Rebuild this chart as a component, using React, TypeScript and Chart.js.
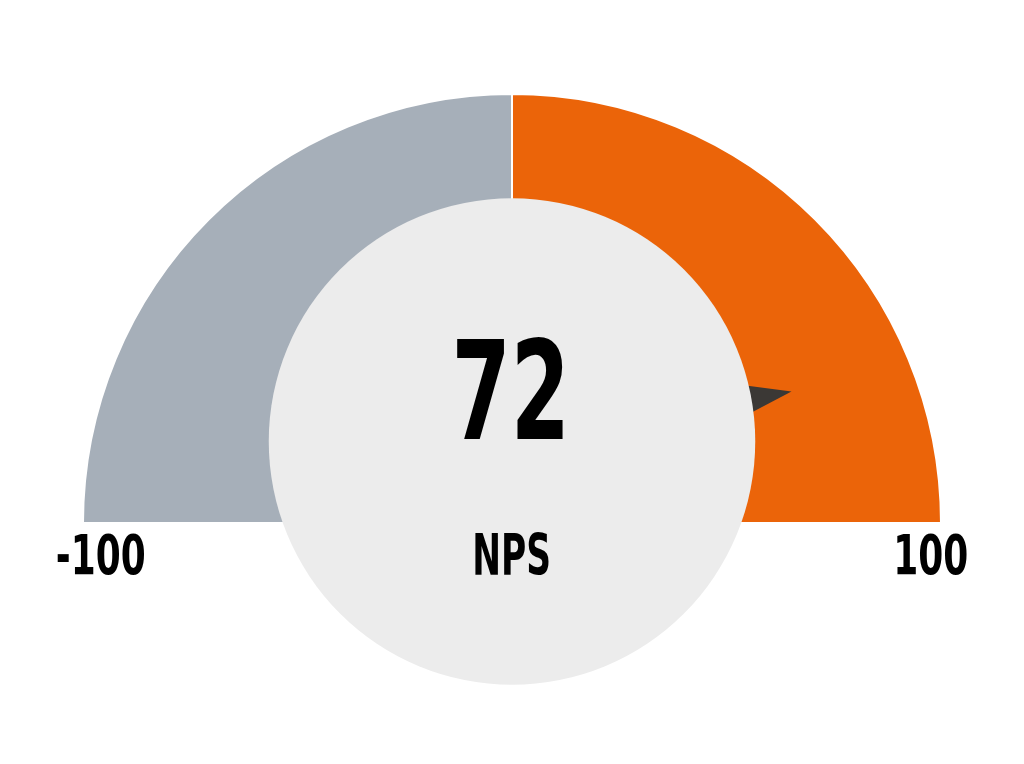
import { Chart, registerables } from 'chart.js';
import { useEffect, useRef } from 'react';

Chart.register(...registerables);

// gauge data
const gaugeMin = -100;
const gaugeMax = 100;
const bandLabels = ['-100 to 0', '0 to 100'];
const bandValues = [100, 100];
const bandColors = ['#a6afb9', '#eb6409'];
const score = 72;
const scoreLabel = 'NPS';
const tickLabels = ['-100', '100'];

const FONT = "'Liberation Sans Narrow', 'DejaVu Sans Condensed', Roboto, sans-serif";

// draw text so its ink box gets the given cap height and width
function drawFitted(
   ctx: CanvasRenderingContext2D,
   text: string,
   x: number,
   baseline: number,
   capHeight: number,
   inkWidth: number,
   align: 'left' | 'center' | 'right',
) {
   ctx.save();
   ctx.font = `bold 100px ${FONT}`;
   const ref = ctx.measureText('100');
   const size = (100 * capHeight) / ref.actualBoundingBoxAscent;
   ctx.font = `bold ${size}px ${FONT}`;
   ctx.textAlign = 'left';
   ctx.textBaseline = 'alphabetic';
   const m = ctx.measureText(text);
   const w = m.actualBoundingBoxLeft + m.actualBoundingBoxRight;
   const sx = inkWidth / w;
   let left = x;
   if (align === 'center') left = x - inkWidth / 2;
   if (align === 'right') left = x - inkWidth;
   ctx.translate(left, baseline);
   ctx.scale(sx, 1);
   ctx.fillStyle = '#000';
   ctx.fillText(text, m.actualBoundingBoxLeft, 0);
   ctx.restore();
}

const gaugeOverlay = {
   id: 'gaugeOverlay',
   afterDatasetsDraw(chart: Chart) {
      const arc: any = chart.getDatasetMeta(0).data[0];
      if (!arc) return;
      const { x: cx, y: cy, outerRadius: R } = arc;
      const ctx = chart.ctx;

      // hub circle centre
      const hx = cx;
      const hy = cy - 0.19 * R;

      // needle
      const frac = (score - gaugeMin) / (gaugeMax - gaugeMin);
      const a = Math.PI + frac * Math.PI;
      const tx = cx + 0.72 * R * Math.cos(a);
      const ty = cy + 0.72 * R * Math.sin(a);
      const na = Math.atan2(ty - hy, tx - hx);
      const hw = 0.21 * R;
      ctx.save();
      ctx.beginPath();
      ctx.moveTo(hx + hw * Math.sin(na), hy - hw * Math.cos(na));
      ctx.lineTo(tx, ty);
      ctx.lineTo(hx - hw * Math.sin(na), hy + hw * Math.cos(na));
      ctx.closePath();
      ctx.fillStyle = '#3b3835';
      ctx.fill();

      // hub
      ctx.beginPath();
      ctx.arc(hx, hy, 0.567 * R, 0, Math.PI * 2);
      ctx.fillStyle = '#ececec';
      ctx.fill();
      ctx.restore();

      drawFitted(ctx, String(score), cx - 2, cy - 84, 103, 106, 'center');
      drawFitted(ctx, scoreLabel, cx, cy + 52, 43, 74, 'center');
      drawFitted(ctx, tickLabels[0], cx - 1.06 * R, cy + 51, 42, 87, 'left');
      drawFitted(ctx, tickLabels[1], cx + 1.06 * R, cy + 51, 42, 70, 'right');
   },
};

export default function App() {
   const chartRef = useRef<HTMLCanvasElement>(null);
   const chartInstance = useRef<Chart | null>(null);

   useEffect(() => {
      if (!chartRef.current) return;
      if (chartInstance.current) chartInstance.current.destroy();

      chartInstance.current = new Chart(chartRef.current, {
         type: 'doughnut',
         data: {
            labels: bandLabels,
            datasets: [
               {
                  data: bandValues,
                  backgroundColor: bandColors,
                  borderColor: '#ffffff',
                  borderWidth: 2,
               },
            ],
         },
         options: {
            responsive: false,
            animation: false,
            events: [],
            rotation: -90,
            circumference: 180,
            cutout: '45%',
            layout: { padding: { left: 81, right: 81, top: 93, bottom: 240 } },
            plugins: {
               legend: { display: false },
               tooltip: { enabled: false },
            },
         },
         plugins: [gaugeOverlay],
      });

      return () => {
         if (chartInstance.current) {
            chartInstance.current.destroy();
            chartInstance.current = null;
         }
      };
   }, []);

   return (
      <div style={{ position: 'absolute', left: 0, top: 0, width: 1024, height: 764, background: '#fff' }}>
         <canvas ref={chartRef} width={1024} height={764} />
      </div>
   );
}
